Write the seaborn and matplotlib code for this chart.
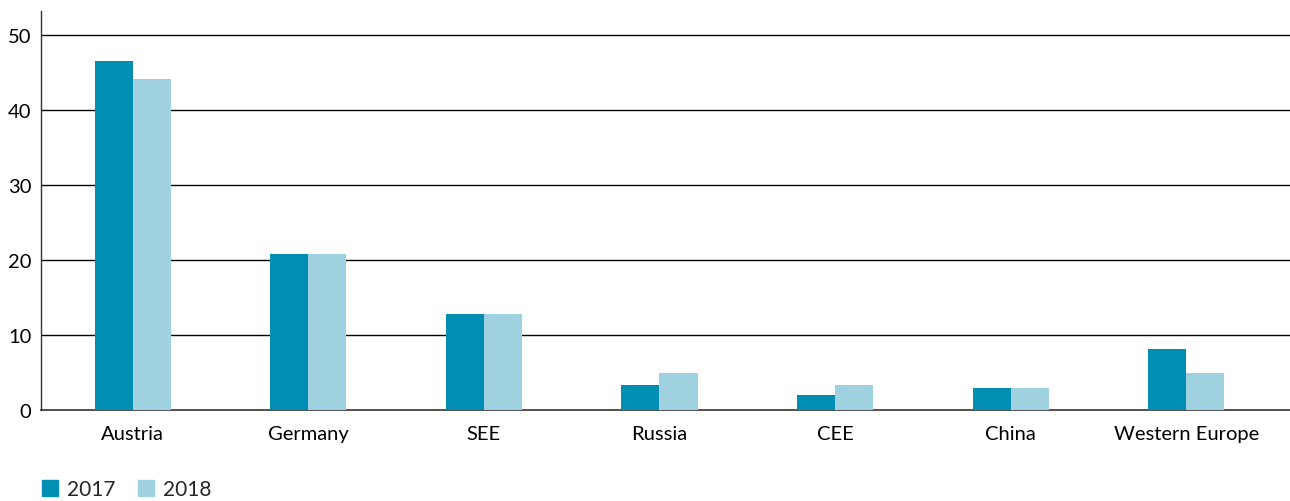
import pandas as pd
import matplotlib.pyplot as plt
import seaborn as sns
from matplotlib.patches import Patch

# Data
regions = ['Austria', 'Germany', 'SEE', 'Russia', 'CEE', 'China', 'Western Europe']
values_2017 = [46.5, 20.8, 12.8, 3.4, 2.0, 2.9, 8.1]
values_2018 = [44.2, 20.8, 12.8, 5.0, 3.4, 2.9, 5.0]
years = ['2017', '2018']
colors = ['#008fb3', '#a0d1e1']

df = pd.DataFrame({
    'region': regions * 2,
    'year': ['2017'] * len(regions) + ['2018'] * len(regions),
    'value': values_2017 + values_2018,
})

sns.set_style('white')
plt.rcParams['font.family'] = ['Lato', 'DejaVu Sans']

fig = plt.figure(figsize=(12.9, 5.02), dpi=100)
ax = fig.add_axes([0.032, 0.181, 0.968, 0.795])

sns.barplot(data=df, x='region', y='value', hue='year', hue_order=years,
            palette=colors, width=0.433, gap=0, saturation=1, ax=ax,
            legend=False, zorder=3, linewidth=0)

ax.set_ylim(0, 53.2)
ax.set_xlim(-0.52, 6.59)
ax.set_yticks([0, 10, 20, 30, 40, 50])
for y in [10, 20, 30, 40, 50]:
    ax.axhline(y, color='black', lw=1, zorder=1)

ax.set_xlabel('')
ax.set_ylabel('')
for side in ['top', 'right']:
    ax.spines[side].set_visible(False)
ax.spines['left'].set_color('#333333')
ax.spines['bottom'].set_color('#333333')
ax.spines['left'].set_linewidth(1)
ax.spines['bottom'].set_linewidth(1.2)
ax.tick_params(axis='both', length=0, labelsize=14.5, colors='black')
ax.tick_params(axis='x', pad=11)
ax.tick_params(axis='y', pad=7)

handles = [Patch(color=c, label=y) for c, y in zip(colors, years)]
fig.legend(handles=handles, loc='lower left', bbox_to_anchor=(0.018, -0.034),
           ncol=2, frameon=False, fontsize=15, handlelength=0.75,
           handleheight=0.75, handletextpad=0.45, columnspacing=1.1)

fig.savefig('out.png', dpi=100)
